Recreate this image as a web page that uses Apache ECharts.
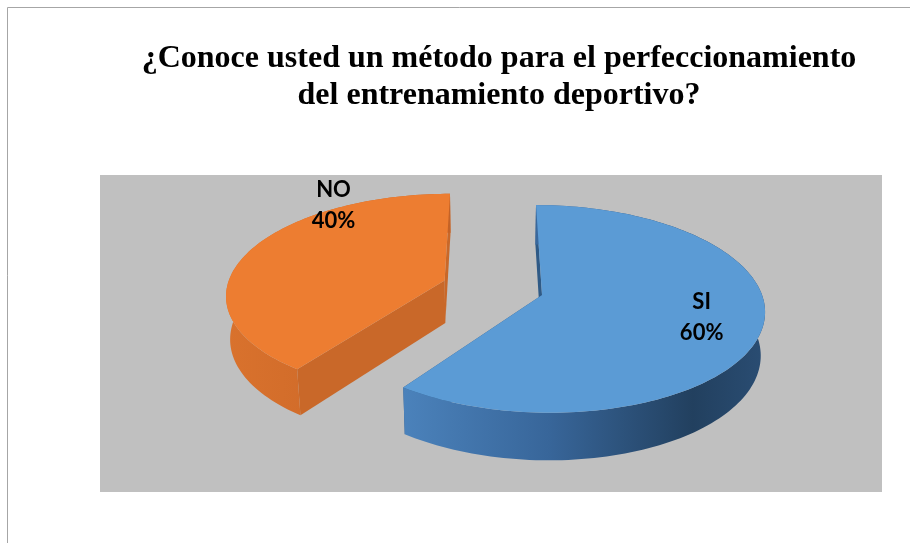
<!DOCTYPE html>
<html>
<head>
<meta charset="utf-8">
<script src="https://cdn.jsdelivr.net/npm/echarts@6/dist/echarts.min.js"></script>
<style>
  html, body { margin: 0; padding: 0; background: #ffffff; }
  #chart { width: 910px; height: 543px; }
</style>
</head>
<body>
<div id="chart"></div>
<script>
// Survey answers
const categories = ['SI', 'NO'];
const responses = [60, 40];
const titleLines = [
  '¿Conoce usted un método para el perfeccionamiento',
  'del entrenamiento deportivo?'
];

const total = responses.reduce((a, b) => a + b, 0);

// Camera used to project the tilted 3D pie onto the page
const view = {
  cx: 491, cy: 295,       // screen point of the world origin
  scale: 220,             // pixels per pie radius
  dist: 6.62,             // perspective distance (in radii)
  tilt: 27.6 * Math.PI / 180,
  depth: 0.225,           // pie thickness (in radii)
  pieX: 0.232             // pie centre, in radii right of the origin
};
const sinT = Math.sin(view.tilt), cosT = Math.cos(view.tilt);

function project(X, Z, Y) {
  const yp = Y * cosT + Z * sinT;
  const zp = Z * cosT - Y * sinT;
  const k = view.dist / (view.dist + zp);
  return [view.cx + view.scale * X * k, view.cy - view.scale * yp * k];
}

// Per-slice look: colours, explosion and label placement
const sliceStyle = {
  SI: {
    top: '#5b9bd5',
    side: [[0, '#4b82bb'], [0.4, '#38669a'], [0.8, '#22405f'], [1, '#2a4d73']],
    cut: '#2f5a86',
    explode: 0.0,
    label: [0.73, -1]
  },
  NO: {
    top: '#ed7d31',
    side: [[0, '#d9722d'], [0.5, '#cf6a29'], [1, '#c46226']],
    cut: '#c96829',
    explode: 0.47,
    label: [1.04, 37]
  }
};

function renderSlice(params, api) {
  const i = params.dataIndex;
  const name = categories[i];
  const value = api.value(0);
  const st = sliceStyle[name];
  let before = 0;
  for (let j = 0; j < i; j++) before += responses[j];
  const a1 = before / total * Math.PI * 2;
  const a2 = (before + value) / total * Math.PI * 2;
  const mid = (a1 + a2) / 2;
  const ox = view.pieX + st.explode * Math.sin(mid);
  const oz = st.explode * Math.cos(mid);
  const h = -view.depth;

  const rim = (a, Y) => project(ox + Math.sin(a), oz + Math.cos(a), Y);
  const steps = Math.max(8, Math.ceil((a2 - a1) / (Math.PI / 120)));
  const topRim = [], botRim = [];
  for (let s = 0; s <= steps; s++) {
    const a = a1 + (a2 - a1) * s / steps;
    topRim.push(rim(a, 0));
    botRim.push(rim(a, h));
  }
  const apexTop = project(ox, oz, 0);
  const apexBot = project(ox, oz, h);

  const children = [];
  // cut faces, then the rounded wall, then the top face
  [a1, a2].forEach(a => {
    children.push({
      type: 'polygon',
      shape: { points: [apexTop, rim(a, 0), rim(a, h), apexBot] },
      style: { fill: st.cut }
    });
  });
  children.push({
    type: 'polygon',
    shape: { points: topRim.concat(botRim.slice().reverse()) },
    style: {
      fill: new echarts.graphic.LinearGradient(0, 0, 1, 0,
        st.side.map(s => ({ offset: s[0], color: s[1] })))
    }
  });
  children.push({
    type: 'polygon',
    shape: { points: [apexTop].concat(topRim) },
    style: { fill: st.top }
  });

  const la = mid + st.label[1] * Math.PI / 180;
  const lp = project(ox + st.label[0] * Math.sin(la), oz + st.label[0] * Math.cos(la), 0);
  children.push({
    type: 'text',
    style: {
      text: name + '\n' + Math.round(value / total * 100) + '%',
      x: lp[0], y: lp[1],
      align: 'center', verticalAlign: 'middle',
      fontFamily: 'Lato', fontWeight: 'bold', fontSize: 22,
      lineHeight: 31, fill: '#000000'
    }
  });
  return { type: 'group', children };
}

const chart = echarts.init(document.getElementById('chart'), null, { renderer: 'canvas' });
chart.setOption({
  animation: false,
  backgroundColor: '#ffffff',
  title: {
    text: titleLines.join('\n'),
    left: 494,
    top: 35,
    textAlign: 'center',
    textStyle: {
      fontFamily: 'Liberation Serif',
      fontWeight: 'bold',
      fontSize: 32,
      lineHeight: 37,
      color: '#000000'
    }
  },
  graphic: [
    {
      type: 'rect', z: -10,
      shape: { x: 7.5, y: 7.5, width: 920, height: 560 },
      style: { fill: '#ffffff', stroke: '#a6a6a6', lineWidth: 1 }
    },
    {
      type: 'rect', z: -9,
      shape: { x: 100, y: 175, width: 782, height: 317 },
      style: { fill: '#c0c0c0' }
    }
  ],
  series: [{
    type: 'custom',
    coordinateSystem: 'none',
    z: 5,
    data: responses.map((v, i) => ({ name: categories[i], value: [v] })),
    renderItem: renderSlice
  }]
});
</script>
</body>
</html>
